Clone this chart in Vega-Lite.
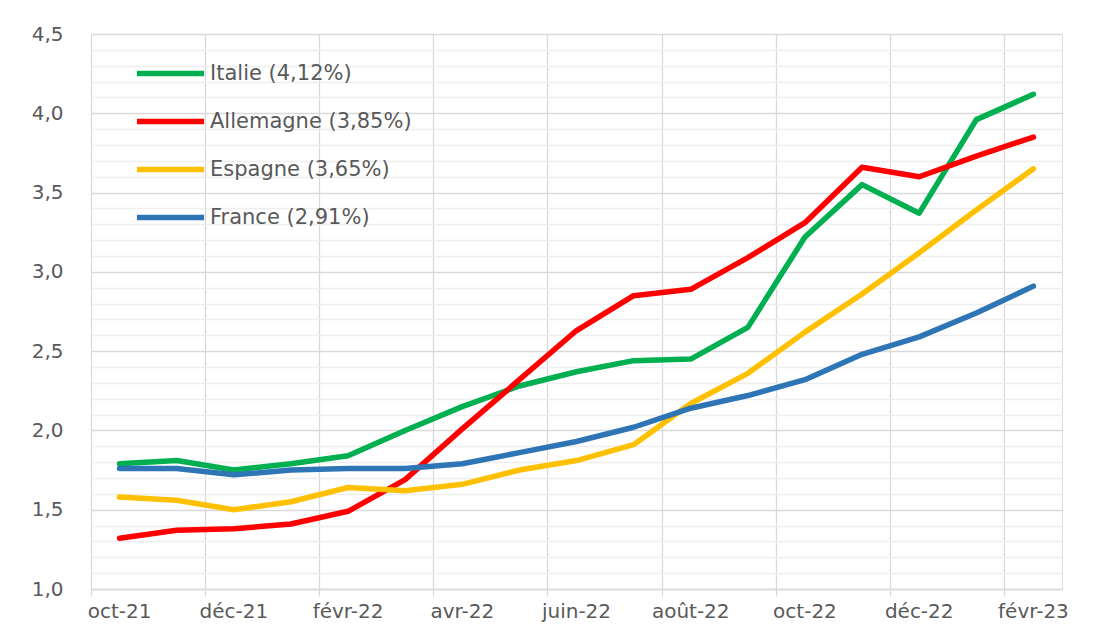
{
  "$schema": "https://vega.github.io/schema/vega-lite/v6.json",
  "width": 971,
  "height": 555,
  "autosize": {"type": "none"},
  "padding": {"left": 91, "top": 34, "right": 40, "bottom": 46},
  "background": "#FFFFFF",
  "data": {
    "values": [
      {"mois": "oct-21", "Italie (4,12%)": 1.79, "Allemagne (3,85%)": 1.32, "Espagne (3,65%)": 1.58, "France (2,91%)": 1.76},
      {"mois": "nov-21", "Italie (4,12%)": 1.81, "Allemagne (3,85%)": 1.37, "Espagne (3,65%)": 1.56, "France (2,91%)": 1.76},
      {"mois": "déc-21", "Italie (4,12%)": 1.75, "Allemagne (3,85%)": 1.38, "Espagne (3,65%)": 1.50, "France (2,91%)": 1.72},
      {"mois": "janv-22", "Italie (4,12%)": 1.79, "Allemagne (3,85%)": 1.41, "Espagne (3,65%)": 1.55, "France (2,91%)": 1.75},
      {"mois": "févr-22", "Italie (4,12%)": 1.84, "Allemagne (3,85%)": 1.49, "Espagne (3,65%)": 1.64, "France (2,91%)": 1.76},
      {"mois": "mars-22", "Italie (4,12%)": 2.00, "Allemagne (3,85%)": 1.69, "Espagne (3,65%)": 1.62, "France (2,91%)": 1.76},
      {"mois": "avr-22", "Italie (4,12%)": 2.15, "Allemagne (3,85%)": 2.01, "Espagne (3,65%)": 1.66, "France (2,91%)": 1.79},
      {"mois": "mai-22", "Italie (4,12%)": 2.28, "Allemagne (3,85%)": 2.32, "Espagne (3,65%)": 1.75, "France (2,91%)": 1.86},
      {"mois": "juin-22", "Italie (4,12%)": 2.37, "Allemagne (3,85%)": 2.63, "Espagne (3,65%)": 1.81, "France (2,91%)": 1.93},
      {"mois": "juil-22", "Italie (4,12%)": 2.44, "Allemagne (3,85%)": 2.85, "Espagne (3,65%)": 1.91, "France (2,91%)": 2.02},
      {"mois": "août-22", "Italie (4,12%)": 2.45, "Allemagne (3,85%)": 2.89, "Espagne (3,65%)": 2.17, "France (2,91%)": 2.14},
      {"mois": "sept-22", "Italie (4,12%)": 2.65, "Allemagne (3,85%)": 3.09, "Espagne (3,65%)": 2.36, "France (2,91%)": 2.22},
      {"mois": "oct-22", "Italie (4,12%)": 3.22, "Allemagne (3,85%)": 3.31, "Espagne (3,65%)": 2.62, "France (2,91%)": 2.32},
      {"mois": "nov-22", "Italie (4,12%)": 3.55, "Allemagne (3,85%)": 3.66, "Espagne (3,65%)": 2.86, "France (2,91%)": 2.48},
      {"mois": "déc-22", "Italie (4,12%)": 3.37, "Allemagne (3,85%)": 3.60, "Espagne (3,65%)": 3.12, "France (2,91%)": 2.59},
      {"mois": "janv-23", "Italie (4,12%)": 3.96, "Allemagne (3,85%)": 3.73, "Espagne (3,65%)": 3.39, "France (2,91%)": 2.74},
      {"mois": "févr-23", "Italie (4,12%)": 4.12, "Allemagne (3,85%)": 3.85, "Espagne (3,65%)": 3.65, "France (2,91%)": 2.91}
    ]
  },
  "transform": [
    {"fold": ["Italie (4,12%)", "Allemagne (3,85%)", "Espagne (3,65%)", "France (2,91%)"], "as": ["serie", "taux"]}
  ],
  "mark": {"type": "line", "strokeWidth": 5.5, "strokeCap": "round", "strokeJoin": "round"},
  "encoding": {
    "x": {
      "field": "mois",
      "type": "ordinal",
      "sort": null,
      "scale": {"type": "band", "paddingInner": 0, "paddingOuter": 0},
      "axis": {
        "title": null,
        "values": ["oct-21", "déc-21", "févr-22", "avr-22", "juin-22", "août-22", "oct-22", "déc-22", "févr-23"],
        "bandPosition": 0,
        "labelAngle": 0,
        "grid": true,
        "gridColor": "#D9D9D9",
        "gridWidth": 1.3,
        "tickColor": "#D9D9D9",
        "tickSize": 7,
        "tickWidth": 1.3,
        "domainColor": "#D9D9D9",
        "domainWidth": 1.3,
        "labelFont": "DejaVu Sans",
        "labelFontSize": 20,
        "labelColor": "#595959",
        "labelPadding": 5
      }
    },
    "y": {
      "field": "taux",
      "type": "quantitative",
      "scale": {"domain": [1, 4.5], "nice": false, "zero": false},
      "axis": {
        "title": null,
        "values": [1.0, 1.1, 1.2, 1.3, 1.4, 1.5, 1.6, 1.7, 1.8, 1.9, 2.0, 2.1, 2.2, 2.3, 2.4, 2.5, 2.6, 2.7, 2.8, 2.9, 3.0, 3.1, 3.2, 3.3, 3.4, 3.5, 3.6, 3.7, 3.8, 3.9, 4.0, 4.1, 4.2, 4.3, 4.4, 4.5],
        "labelExpr": "abs(datum.value * 2 - round(datum.value * 2)) < 0.001 ? replace(format(datum.value, '.1f'), '.', ',') : ''",
        "grid": true,
        "gridColor": {"condition": {"test": "abs(datum.value * 2 - round(datum.value * 2)) < 0.001", "value": "#D9D9D9"}, "value": "#EEEEEE"},
        "gridWidth": 1.3,
        "ticks": false,
        "domain": false,
        "labelFont": "DejaVu Sans",
        "labelFontSize": 20,
        "labelColor": "#595959",
        "labelPadding": 28
      }
    },
    "color": {
      "field": "serie",
      "type": "nominal",
      "sort": ["Italie (4,12%)", "Allemagne (3,85%)", "Espagne (3,65%)", "France (2,91%)"],
      "scale": {
        "domain": ["Italie (4,12%)", "Allemagne (3,85%)", "Espagne (3,65%)", "France (2,91%)"],
        "range": ["#00B050", "#FF0000", "#FFC000", "#2E75B6"]
      },
      "legend": {
        "title": null,
        "orient": "none",
        "legendX": 43,
        "legendY": 3,
        "symbolType": "stroke",
        "symbolSize": 4500,
        "symbolStrokeWidth": 5.5,
        "labelFont": "DejaVu Sans",
        "labelFontSize": 21,
        "labelColor": "#595959",
        "labelOffset": 3,
        "labelLimit": 400,
        "rowPadding": -2
      }
    },
    "order": {"field": "serie", "sort": "ascending"}
  }
}
